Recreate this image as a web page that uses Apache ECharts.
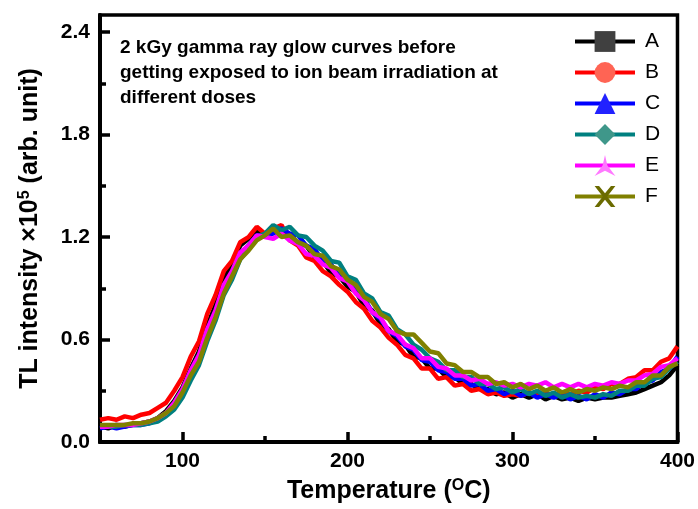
<!DOCTYPE html>
<html>
<head>
<meta charset="utf-8">
<script src="https://cdn.jsdelivr.net/npm/echarts@6/dist/echarts.min.js"></script>
<style>html,body{margin:0;padding:0;background:#fff}#c{width:698px;height:509px}</style>
</head>
<body>
<div id="c"></div>
<script>
const temps = [
  50,55,60,65,70,75,80,85,90,95,
  100,105,110,115,120,125,130,135,140,145,
  150,155,160,165,170,175,180,185,190,195,
  200,205,210,215,220,225,230,235,240,245,
  250,255,260,265,270,275,280,285,290,295,
  300,305,310,315,320,325,330,335,340,345,
  350,355,360,365,370,375,380,385,390,395,
  400];
const seriesNames = ['A','B','C','D','E','F'];
const valA = [
  0.09,0.08,0.10,0.09,0.10,0.11,0.12,0.14,0.18,0.24,
  0.32,0.43,0.53,0.68,0.80,0.95,1.04,1.15,1.19,1.24,
  1.21,1.25,1.21,1.22,1.16,1.15,1.08,1.06,0.99,0.97,
  0.91,0.88,0.80,0.77,0.69,0.66,0.59,0.57,0.50,0.49,
  0.43,0.43,0.38,0.38,0.34,0.34,0.31,0.31,0.28,0.29,
  0.26,0.28,0.26,0.28,0.25,0.27,0.25,0.26,0.24,0.26,
  0.25,0.26,0.26,0.27,0.28,0.29,0.31,0.33,0.35,0.39,
  0.45];
const valB = [
  0.13,0.14,0.13,0.15,0.14,0.16,0.17,0.20,0.23,0.30,
  0.38,0.50,0.59,0.75,0.86,1.00,1.06,1.17,1.20,1.26,
  1.22,1.25,1.27,1.18,1.15,1.08,1.06,1.00,0.97,0.92,
  0.88,0.82,0.78,0.71,0.67,0.61,0.57,0.51,0.49,0.43,
  0.43,0.37,0.38,0.33,0.34,0.30,0.31,0.28,0.29,0.27,
  0.28,0.27,0.29,0.27,0.29,0.27,0.29,0.28,0.30,0.29,
  0.32,0.31,0.34,0.34,0.37,0.38,0.42,0.42,0.47,0.49,
  0.56];
const valC = [
  0.08,0.09,0.08,0.09,0.10,0.10,0.11,0.13,0.16,0.21,
  0.29,0.39,0.49,0.63,0.75,0.90,0.99,1.10,1.15,1.21,
  1.21,1.22,1.25,1.22,1.21,1.15,1.13,1.06,1.04,0.97,
  0.95,0.88,0.84,0.76,0.72,0.65,0.62,0.56,0.54,0.48,
  0.47,0.42,0.41,0.37,0.37,0.33,0.34,0.30,0.31,0.28,
  0.30,0.27,0.29,0.26,0.28,0.26,0.28,0.25,0.27,0.25,
  0.28,0.26,0.29,0.28,0.31,0.31,0.35,0.36,0.41,0.43,
  0.50];
const valD = [
  0.09,0.09,0.09,0.10,0.10,0.10,0.11,0.12,0.15,0.19,
  0.26,0.36,0.45,0.59,0.71,0.86,0.95,1.07,1.13,1.20,
  1.22,1.27,1.24,1.26,1.21,1.20,1.15,1.12,1.06,1.05,
  0.97,0.95,0.87,0.84,0.76,0.74,0.66,0.63,0.57,0.54,
  0.49,0.47,0.42,0.42,0.38,0.38,0.34,0.34,0.31,0.32,
  0.29,0.31,0.28,0.30,0.27,0.29,0.26,0.28,0.26,0.27,
  0.26,0.28,0.27,0.30,0.30,0.33,0.33,0.37,0.38,0.43,
  0.47];
const valE = [
  0.09,0.09,0.10,0.10,0.10,0.11,0.12,0.14,0.17,0.23,
  0.31,0.42,0.51,0.66,0.77,0.92,1.00,1.11,1.15,1.21,
  1.20,1.19,1.22,1.18,1.16,1.10,1.09,1.04,1.02,0.96,
  0.94,0.87,0.83,0.76,0.73,0.65,0.63,0.57,0.55,0.49,
  0.49,0.44,0.43,0.39,0.39,0.36,0.37,0.34,0.35,0.33,
  0.34,0.32,0.34,0.33,0.35,0.32,0.34,0.32,0.34,0.32,
  0.34,0.33,0.35,0.34,0.36,0.36,0.39,0.40,0.44,0.45,
  0.49];
const valF = [
  0.10,0.10,0.10,0.10,0.11,0.11,0.12,0.14,0.17,0.21,
  0.29,0.39,0.47,0.61,0.73,0.87,0.97,1.07,1.12,1.18,
  1.21,1.25,1.20,1.21,1.17,1.15,1.10,1.09,1.03,1.01,
  0.95,0.92,0.85,0.82,0.75,0.72,0.65,0.63,0.63,0.58,
  0.53,0.52,0.46,0.45,0.41,0.41,0.38,0.38,0.34,0.35,
  0.32,0.34,0.31,0.33,0.30,0.32,0.29,0.31,0.29,0.31,
  0.30,0.32,0.31,0.33,0.32,0.35,0.35,0.39,0.39,0.44,
  0.46];
const xMajorTicks = [100,200,300,400];
const xMinorTicks = [150,250,350];
const yMajorTicks = [0,0.6,1.2,1.8,2.4];
const yMinorTicks = [0.3,0.9,1.5,2.1];
const annotation = '2 kGy gamma ray glow curves before\ngetting exposed to ion beam irradiation at\ndifferent doses';

const allVals = [valA,valB,valC,valD,valE,valF];
const lineColors = ['#000000','#ff0000','#0000ff','#008080','#ff00ff','#808000'];
const symColors = ['#404040','#ff6454','#2222ff','#3f978a','#ff78ff','#6b6b00'];
const symbols = ['rect','circle','triangle','diamond',
  'path://M0,-12 L3,0 L13,12 L0,6 L-13,12 L-3,0 Z',
  'path://M0,0 L3,0 L7,4.5 L11,0 L14,0 L8.5,6.5 L14,13 L11,13 L7,8.5 L3,13 L0,13 L5.5,6.5 Z'];

const FONT = '"Liberation Sans", Arial, sans-serif';
const series = seriesNames.map((n,i)=>({
  name:n, type:'line', xAxisIndex:0, yAxisIndex:0,
  data: temps.map((t,k)=>[t, allVals[i][k]]),
  showSymbol:false, symbol:symbols[i], color:symColors[i],
  itemStyle:{color:symColors[i]},
  lineStyle:{color:lineColors[i], width:4.5},
  animation:false, z:2+i
}));

const chart = echarts.init(document.getElementById('c'), null, {renderer:'canvas'});
chart.setOption({
  backgroundColor:'#fff',
  animation:false,
  grid:{left:100, top:15, width:580, height:432, show:true, borderColor:'#000', borderWidth:3.5, backgroundColor:'transparent'},
  xAxis:[{
    type:'value', min:50, max:400, interval:50,
    axisLine:{lineStyle:{color:'#000', width:4}},
    axisTick:{inside:true, length:10, customValues:xMajorTicks, lineStyle:{color:'#000', width:3.5}},
    axisLabel:{customValues:xMajorTicks, color:'#000', fontSize:21, fontWeight:'bold', fontFamily:FONT, margin:9},
    splitLine:{show:false},
    name:'Temperature ({sup|O}C)', nameLocation:'middle', nameGap:36,
    nameTextStyle:{color:'#000', fontSize:25, fontWeight:'bold', fontFamily:FONT,
      rich:{sup:{fontSize:16, fontWeight:'bold', fontFamily:FONT, padding:[0,0,11,0]}}}
  },{
    type:'value', min:50, max:400, interval:50, position:'bottom',
    axisLine:{show:false},
    axisTick:{inside:true, length:6, customValues:xMinorTicks, lineStyle:{color:'#000', width:3.5}},
    axisLabel:{show:false}, splitLine:{show:false}
  }],
  yAxis:[{
    type:'value', min:0, max:2.5, interval:0.1,
    axisLine:{lineStyle:{color:'#000', width:4}},
    axisTick:{inside:true, length:10, customValues:yMajorTicks, lineStyle:{color:'#000', width:3.5}},
    axisLabel:{customValues:yMajorTicks, formatter:v=>v.toFixed(1), color:'#000', fontSize:21, fontWeight:'bold', fontFamily:FONT, margin:10},
    splitLine:{show:false},
    name:'TL intensity ×10{sup|5} (arb. unit)', nameLocation:'middle', nameGap:56, nameRotate:90,
    nameTextStyle:{color:'#000', fontSize:25, fontWeight:'bold', fontFamily:FONT,
      rich:{sup:{fontSize:16, fontWeight:'bold', fontFamily:FONT, padding:[0,0,11,0]}}}
  },{
    type:'value', min:0, max:2.5, interval:0.1, position:'left',
    axisLine:{show:false},
    axisTick:{inside:true, length:6, customValues:yMinorTicks, lineStyle:{color:'#000', width:3.5}},
    axisLabel:{show:false}, splitLine:{show:false}
  }],
  legend:{
    orient:'vertical', left:573, top:31, itemWidth:60, itemHeight:26, itemGap:10, padding:0,
    data:seriesNames,
    lineStyle:{width:4},
    textStyle:{color:'#000', fontSize:21, fontFamily:FONT, padding:[0,0,0,5]}
  },
  graphic:[{
    type:'text', left:120, top:35,
    style:{text:annotation, font:'bold 19px ' + FONT, fill:'#000', lineHeight:25}
  }],
  series: series
});
</script>
</body>
</html>
